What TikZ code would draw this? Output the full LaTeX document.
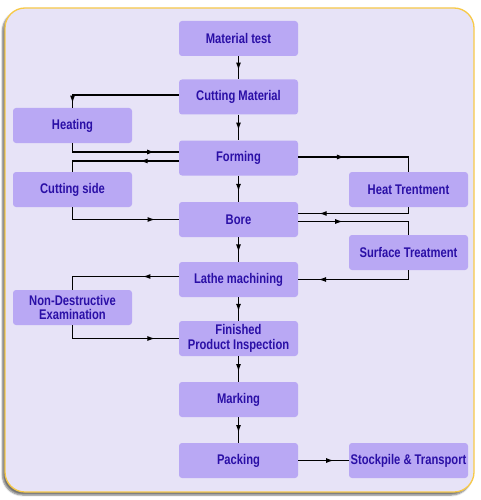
\documentclass[tikz,border=0pt]{standalone}
\usepackage{fontspec}
\usepackage{tikz}
\usetikzlibrary{arrows.meta,positioning,calc,decorations.markings,shadows.blur}
\usepackage{xcolor}
\newfontfamily\boxfont[FakeStretch=0.8]{Liberation Sans}
\definecolor{panelbg}{HTML}{E7E3F7}
\definecolor{panelrim}{HTML}{F7C948}
\definecolor{boxfill}{HTML}{B9A8F4}
\definecolor{boxtext}{HTML}{2A0FA6}

\begin{document}
\begin{tikzpicture}[x=1pt, y=-1pt,
    proc/.style={fill=boxfill, rounded corners=3pt, minimum width=119pt, minimum height=35pt,
        inner sep=1pt, align=center, text=boxtext, font=\boxfont\bfseries\fontsize{14}{14.5}\selectfont},
    flow/.style={line width=1.1pt, black, postaction={decorate},
        decoration={markings, mark=at position #1 with {\arrow{Latex[length=7.5pt,width=5pt]}}}},
    flow/.default=0.6]
    \useasboundingbox (0,0) rectangle (480,500);

    % Panel
    \draw[rounded corners=20pt, draw=panelrim, line width=1.3pt, fill=panelbg,
        blur shadow={shadow xshift=-2.5pt, shadow yshift=-3pt, shadow blur steps=6, shadow opacity=55}]
        (5,8) rectangle (474,492);

    % Main column
    \node[proc] (mtest) at (238.5,38.5) {Material test};
    \node[proc] (cutm)  at (238.5,97)   {Cutting Material};
    \node[proc] (form)  at (238.5,158)  {Forming};
    \node[proc] (bore)  at (238.5,219.5) {Bore};
    \node[proc] (lathe) at (238.5,279.5) {Lathe machining};
    \node[proc] (fpi)   at (238.5,338.5) {Finished\\Product Inspection};
    \node[proc] (mark)  at (238.5,399.5) {Marking};
    \node[proc] (pack)  at (238.5,460.5) {Packing};

    % Side steps
    \node[proc] (heat)   at (72.5,125.5)  {Heating};
    \node[proc] (cside)  at (72.5,189.5)  {Cutting side};
    \node[proc] (nde)    at (72.5,307.5)  {Non-Destructive\\Examination};
    \node[proc] (htreat) at (408.5,189.5) {Heat Trentment};
    \node[proc] (surf)   at (408.5,252.5) {Surface Treatment};
    \node[proc] (stock)  at (408.5,460.5) {Stockpile \& Transport};

    % Main flow
    \draw[flow] (mtest.south) -- (cutm.north);
    \draw[flow] (cutm.south) -- (form.north);
    \draw[flow] (form.south) -- (bore.north);
    \draw[flow] (bore.south) -- (lathe.north);
    \draw[flow] (lathe.south) -- (fpi.north);
    \draw[flow] (fpi.south) -- (mark.north);
    \draw[flow] (mark.south) -- (pack.north);
    \draw[flow=0.7] (pack.east) -- (stock.west);

    % Left loops
    \draw[flow=0.96] ([yshift=2pt]cutm.west) -| (heat.north);
    \draw[flow=0.79] (heat.south) |- ([yshift=6pt]form.west);
    \draw[flow=0.33] ([yshift=-3pt]form.west) -| (cside.north);
    \draw[flow=0.8] (cside.south) |- (bore.west);
    \draw[flow=0.3] ([yshift=3pt]lathe.west) -| (nde.north);
    \draw[flow=0.8] (nde.south) |- (fpi.west);

    % Right loops
    \draw[flow=0.37] ([yshift=1pt]form.east) -| (htreat.north);
    \draw[flow=0.82] (htreat.south) |- ([yshift=6pt]bore.east);
    \draw[flow=0.36] ([yshift=-2pt]bore.east) -| (surf.north);
    \draw[flow=0.83] (surf.south) |- (lathe.east);
\end{tikzpicture}
\end{document}
